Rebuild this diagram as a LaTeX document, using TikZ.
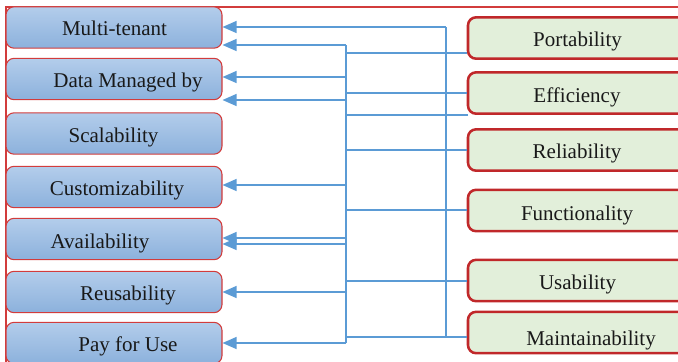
\documentclass[tikz,border=0pt]{standalone}
\usepackage{fontspec}
\setmainfont{Liberation Serif}
\usetikzlibrary{arrows.meta}
\definecolor{lineblue}{HTML}{5B9BD5}
\definecolor{framered}{HTML}{D23C3C}
\definecolor{darkred}{HTML}{C0282A}
\definecolor{boxtop}{HTML}{B3CDEB}
\definecolor{boxbot}{HTML}{8CB1DC}
\definecolor{greenfill}{HTML}{E2EFDA}
\tikzset{
  lbox/.style={rectangle, rounded corners=6pt, draw=framered, line width=0.8pt,
    top color=boxtop, bottom color=boxbot, minimum width=162pt, minimum height=31pt, inner sep=0pt},
  rbox/.style={rectangle, rounded corners=6pt, draw=darkred, line width=1.9pt,
    fill=greenfill, minimum width=163.5pt, minimum height=31pt, inner sep=0pt},
  txt/.style={anchor=base, inner sep=0pt, font=\fontsize{15.75}{18}\selectfont, text=black!90},
  wire/.style={draw=lineblue, line width=0.9pt},
  arr/.style={draw=lineblue, line width=0.9pt, -{Triangle[length=10.5pt,width=9pt]}},
  frame/.style={draw=framered, line width=0.8pt}
}
\begin{document}
\begin{tikzpicture}[x=0.75pt,y=-0.75pt]
\useasboundingbox (0,0) rectangle (678,361);
\clip (0,0) rectangle (678,361);
% outer frame
\draw[frame] (6,7) rectangle (720,420);
% left boxes
\node[lbox] (mt) at (114,27.5) {};
\node[lbox] (dm) at (114,79) {};
\node[lbox] (sc) at (114,133.5) {};
\node[lbox] (cu) at (114,187) {};
\node[lbox] (av) at (114,239) {};
\node[lbox] (re) at (114,292) {};
\node[lbox] (pu) at (114,343) {};
\node[txt] (tmt) at (114.5,35) {Multi-tenant};
\node[txt] (tdm) at (128,87) {Data Managed by};
\node[txt] (tsc) at (113.5,142.5) {Scalability};
\node[txt] (tcu) at (117,195) {Customizability};
\node[txt] (tav) at (100,248) {Availability};
\node[txt] (tre) at (128,300) {Reusability};
\node[txt] (tpu) at (128,351) {Pay for Use};
% right boxes
\node[rbox] (port) at (577,38) {};
\node[rbox] (eff) at (577,93) {};
\node[rbox] (rel) at (577,150) {};
\node[rbox] (func) at (577,210.5) {};
\node[rbox] (usab) at (577,280.5) {};
\node[rbox] (maint) at (577,332.5) {};
\node[txt] (tport) at (577.5,46.5) {Portability};
\node[txt] (teff) at (577,102) {Efficiency};
\node[txt] (trel) at (577,158.5) {Reliability};
\node[txt] (tfunc) at (577,220) {Functionality};
\node[txt] (tusab) at (577.5,289) {Usability};
\node[txt] (tmaint) at (591,345) {Maintainability};
% bus coordinates
\coordinate (A1) at (346,45);
\coordinate (A2) at (346,343);
\coordinate (B1) at (446,27);
\coordinate (B2) at (446,337);
\coordinate (aDM1) at (346,77);
\coordinate (aDM2) at (346,100);
\coordinate (aCU) at (346,185);
\coordinate (aAV1) at (346,238);
\coordinate (aAV2) at (346,244);
\coordinate (aRE) at (346,292);
\coordinate (aP) at (346,53);
\coordinate (aE) at (346,93);
\coordinate (aX) at (346,115);
\coordinate (xfree) at (468,115);
\coordinate (aR) at (346,150);
\coordinate (aF) at (346,210);
\coordinate (aU) at (346,281);
\coordinate (aM) at (346,337);
% buses
\draw[wire] (A1) -- (A2);
\draw[wire] (B1) -- (B2);
% right side feeds
\draw[wire] (port.west |- aP) -- (aP);
\draw[wire] (eff.west |- aE) -- (aE);
\draw[wire] (xfree) -- (aX);
\draw[wire] (rel.west |- aR) -- (aR);
\draw[wire] (func.west |- aF) -- (aF);
\draw[wire] (usab.west |- aU) -- (aU);
\draw[wire] (maint.west |- aM) -- (aM);
% arrows to left boxes
\draw[arr] (B1) -- (mt.east |- B1);
\draw[arr] (A1) -- (mt.east |- A1);
\draw[arr] (aDM1) -- (dm.east |- aDM1);
\draw[arr] (aDM2) -- (dm.east |- aDM2);
\draw[arr] (aCU) -- (cu.east |- aCU);
\draw[arr] (aAV1) -- (av.east |- aAV1);
\draw[arr] (aAV2) -- (av.east |- aAV2);
\draw[arr] (aRE) -- (re.east |- aRE);
\draw[arr] (A2) -- (pu.east |- A2);
\end{tikzpicture}
\end{document}
